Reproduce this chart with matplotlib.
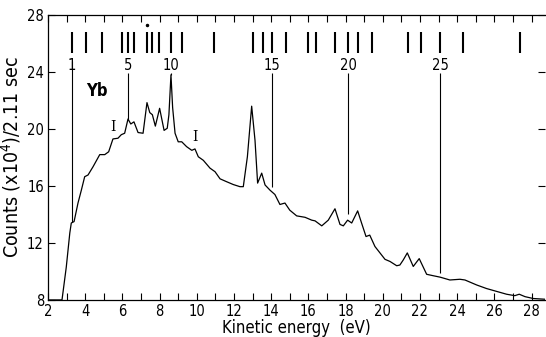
import matplotlib
matplotlib.use("Agg")
import matplotlib.pyplot as plt

plt.rcParams["font.family"] = ["DejaVu Sans"]
plt.rcParams["font.stretch"] = "condensed"

# spectrum
energy = [2.0, 2.75, 2.98, 3.17, 3.25, 3.40, 3.61, 3.79, 3.97, 4.15, 4.42, 4.78,
          5.05, 5.26, 5.49, 5.76, 5.94, 6.12, 6.30, 6.45, 6.62, 6.84, 7.11, 7.32,
          7.47, 7.61, 7.77, 8.00, 8.24, 8.41, 8.50, 8.61, 8.70, 8.83, 9.00, 9.19,
          9.45, 9.73, 9.90, 10.08, 10.35, 10.71, 10.98, 11.25, 11.60, 11.96, 12.32,
          12.50, 12.72, 12.95, 13.13, 13.27, 13.49, 13.67, 13.94, 14.20, 14.47,
          14.74, 15.00, 15.37, 15.82, 16.18, 16.36, 16.72, 17.07, 17.43, 17.70,
          17.88, 18.11, 18.33, 18.65, 18.86, 19.10, 19.30, 19.58, 19.85, 20.12,
          20.39, 20.75, 20.92, 21.10, 21.32, 21.64, 21.96, 22.36, 22.71, 23.08,
          23.61, 24.15, 24.42, 25.05, 25.58, 26.12, 26.66, 27.10, 27.34, 27.65,
          28.09, 28.70]
counts = [8.0, 8.0, 10.3, 12.7, 13.4, 13.5, 14.8, 15.7, 16.65, 16.77, 17.35, 18.2,
          18.2, 18.4, 19.3, 19.35, 19.6, 19.7, 20.7, 20.35, 20.5, 19.75, 19.7, 21.85,
          21.15, 21.0, 20.2, 21.45, 19.9, 20.05, 21.0, 23.8, 21.5, 19.7, 19.1, 19.1,
          18.76, 18.5, 18.6, 18.05, 17.8, 17.25, 17.0, 16.5, 16.3, 16.1, 15.95,
          15.95, 18.05, 21.6, 19.2, 16.2, 16.9, 16.07, 15.7, 15.4, 14.7,
          14.8, 14.3, 13.9, 13.8, 13.6, 13.55, 13.2, 13.6, 14.4, 13.3,
          13.2, 13.6, 13.4, 14.25, 13.4, 12.45, 12.55, 11.75, 11.3, 10.85,
          10.7, 10.4, 10.45, 10.8, 11.3, 10.35, 10.9, 9.8, 9.7, 9.6,
          9.4, 9.45, 9.4, 9.05, 8.8, 8.6, 8.4, 8.3, 8.4, 8.23,
          8.1, 8.05]

# level markers along the top
levels = [3.29, 4.04, 4.90, 5.98, 6.30, 6.62, 7.32, 7.59, 7.97, 8.61, 9.20,
          10.92, 13.02, 13.56, 14.04, 14.80, 15.98, 16.41, 17.43, 18.13, 18.67,
          19.42, 21.35, 22.05, 23.08, 24.31, 27.38]
numbered = [1, 5, 10, 15, 20, 25]
line_ends = [13.5, 20.7, 23.8, 15.9, 14.0, 9.9]

fig = plt.figure(figsize=(5.46, 3.37), dpi=100)
ax = fig.add_axes([0.088, 0.11, 0.91, 0.8455])

ax.plot(energy, counts, color="black", lw=0.9)

ax.vlines(levels, 25.33, 26.8, color="black", lw=1.5)
for n, yend in zip(numbered, line_ends):
    x = levels[n - 1]
    top = 24.8 if n == 1 else 23.9
    ax.vlines(x, yend, top, color="black", lw=0.8)
    ax.text(x, 24.45, str(n), ha="center", va="center", fontsize=10.5)

ax.plot([7.32], [27.3], "k.", ms=3)
ax.text(4.62, 22.7, "Yb", ha="center", va="center", fontsize=12,
        fontweight="bold")
for x, y in [(5.49, 20.14), (9.9, 19.46)]:
    ax.text(x, y, "I", ha="center", va="center", fontsize=10,
            family="DejaVu Serif", stretch="normal")

ax.set_xlim(2, 28.72)
ax.set_ylim(8, 28)
ax.set_xticks(range(2, 29, 2))
ax.set_xticks(range(3, 29, 2), minor=True)
ax.set_yticks(range(8, 29, 4))
ax.tick_params(axis="both", which="both", direction="in", length=5,
               width=0.8, labelsize=10.5, top=True, right=True, pad=3)
ax.spines["right"].set_visible(False)
for s in ["left", "top", "bottom"]:
    ax.spines[s].set_linewidth(0.9)

ax.set_xlabel("Kinetic energy  (eV)", fontsize=12, labelpad=0)
ax.set_ylabel("Counts (x10$^4$)/2.11 sec", fontsize=14, labelpad=3)

fig.savefig("out.png", dpi=100)
